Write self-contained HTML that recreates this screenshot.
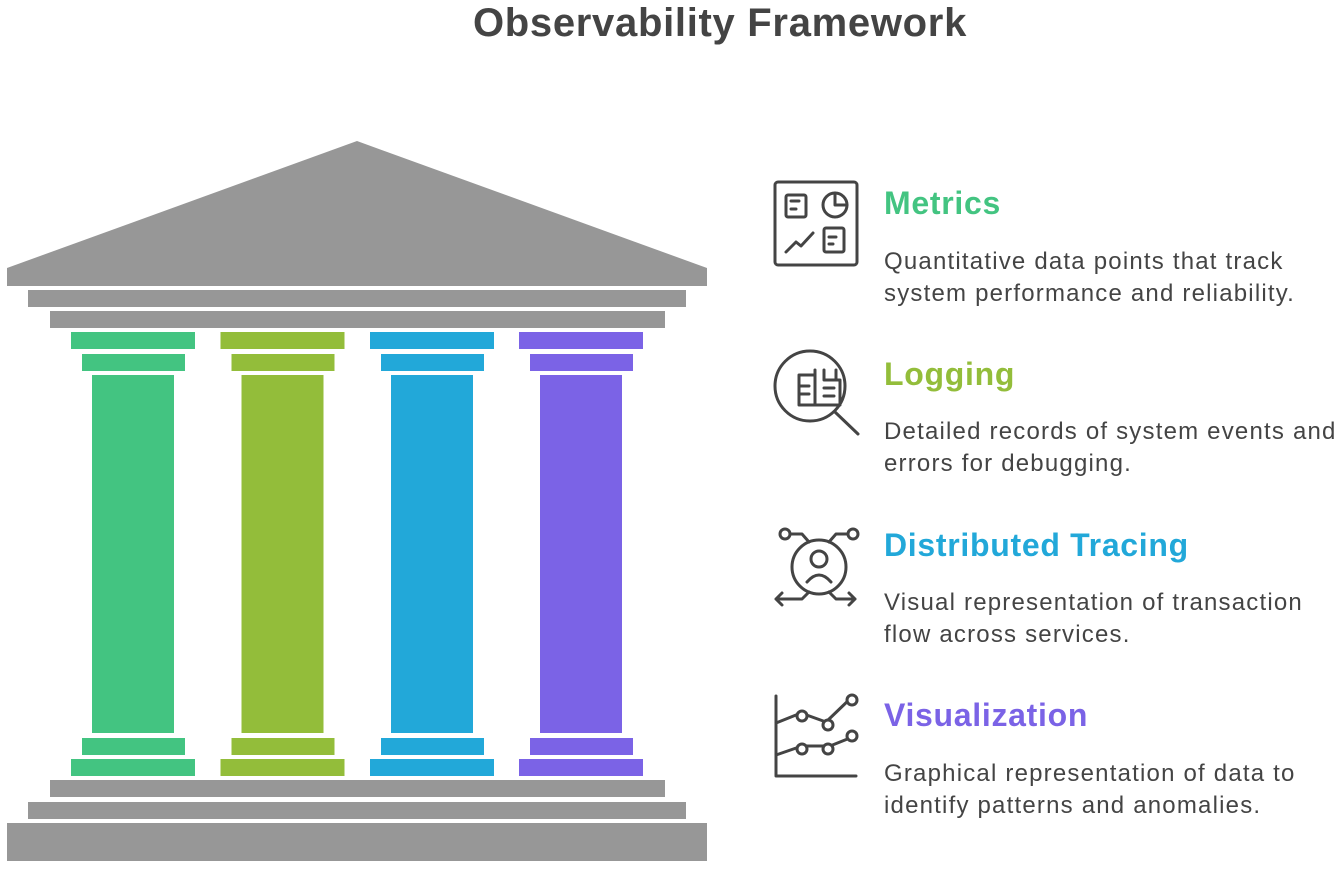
<!DOCTYPE html>
<html><head><style>
body{margin:0;width:1343px;height:870px;background:#fff;position:relative;overflow:hidden;font-family:"Liberation Sans",sans-serif}
.t{position:absolute;white-space:nowrap}
h1{position:absolute;left:0;width:1440px;text-align:center;top:0;margin:0;font-size:40px;color:#444;font-weight:bold;line-height:46px;letter-spacing:0.7px}
.h{font-size:32px;font-weight:bold;left:884px;line-height:38px;letter-spacing:0.7px}
.d{font-size:24px;color:#444;left:884px;line-height:32px;letter-spacing:1.2px}
</style></head><body>
<h1>Observability Framework</h1>
<svg width="720" height="870" style="position:absolute;left:0;top:0">
<g fill="#979797">
<polygon points="7,286 7,268 357,141 707,268 707,286"/>
<rect x="28" y="290" width="658" height="17"/>
<rect x="50" y="311" width="615" height="17"/>
<rect x="50" y="780" width="615" height="17"/>
<rect x="28" y="802" width="658" height="17"/>
<rect x="7" y="823" width="700" height="38"/>
</g>
<g fill="#43c481"><rect x="71" y="332" width="124" height="17"/><rect x="82" y="354" width="103" height="17"/><rect x="92" y="375" width="82" height="358"/><rect x="82" y="738" width="103" height="17"/><rect x="71" y="759" width="124" height="17"/></g>
<g fill="#93bd3a" transform="translate(149.5 0)"><rect x="71" y="332" width="124" height="17"/><rect x="82" y="354" width="103" height="17"/><rect x="92" y="375" width="82" height="358"/><rect x="82" y="738" width="103" height="17"/><rect x="71" y="759" width="124" height="17"/></g>
<g fill="#22a8d9" transform="translate(299 0)"><rect x="71" y="332" width="124" height="17"/><rect x="82" y="354" width="103" height="17"/><rect x="92" y="375" width="82" height="358"/><rect x="82" y="738" width="103" height="17"/><rect x="71" y="759" width="124" height="17"/></g>
<g fill="#7b63e6" transform="translate(448 0)"><rect x="71" y="332" width="124" height="17"/><rect x="82" y="354" width="103" height="17"/><rect x="92" y="375" width="82" height="358"/><rect x="82" y="738" width="103" height="17"/><rect x="71" y="759" width="124" height="17"/></g>
</svg>
<svg width="100" height="640" style="position:absolute;left:765px;top:170px" fill="none" stroke="#444" stroke-width="3" stroke-linecap="round" stroke-linejoin="round">
<rect x="10" y="12" width="82" height="83" rx="3"/>
<rect x="21" y="25" width="20" height="22" rx="2"/><path d="M26 31h8M26 39h5"/>
<circle cx="70" cy="35" r="12"/><path d="M70 23v12h12"/>
<path d="M21 82l10-10 5 4 12-13"/>
<rect x="59" y="58" width="20" height="24" rx="2"/><path d="M64 67h7M64 74h4"/>
<g transform="translate(7 0)">
<circle cx="38" cy="216" r="35"/><path d="M63 242l23 22"/>
<path d="M27 205h16v30h-16zM27 216h10M27 224h10M43 200v35M52 200v10M52 210h16v25h-25M52 218h10M52 226h10M64 200v10"/>
</g>
<circle cx="54" cy="397" r="27"/><circle cx="54" cy="389" r="8"/><path d="M42 412q12-14 24 0"/>
<circle cx="20" cy="364" r="5"/><circle cx="88" cy="364" r="5"/><path d="M25 364h12l7 8M83 364h-12l-7 8M44 422l-7 7h-26M11 429l6-6M11 429l6 6M64 422l7 7h19M90 429l-6-6M90 429l-6 6"/>
<path d="M11 526v80h80"/>
<path d="M11 553l25-10 25 9 26-25M11 585l26-9h28l25-10"/>
<circle cx="37" cy="546" r="5" fill="#fff"/><circle cx="63" cy="555" r="5" fill="#fff"/><circle cx="87" cy="530" r="5" fill="#fff"/>
<circle cx="37" cy="579" r="5" fill="#fff"/><circle cx="63" cy="579" r="5" fill="#fff"/><circle cx="87" cy="566" r="5" fill="#fff"/>
</svg>
<div class="t h" style="top:184px;color:#43c481">Metrics</div>
<div class="t d" style="top:246px">Quantitative data points that track<br>system performance and reliability.</div>
<div class="t h" style="top:355px;color:#93bd3a">Logging</div>
<div class="t d" style="top:416px">Detailed records of system events and<br>errors for debugging.</div>
<div class="t h" style="top:526px;color:#22a8d9">Distributed Tracing</div>
<div class="t d" style="top:587px">Visual representation of transaction<br>flow across services.</div>
<div class="t h" style="top:696px;color:#7b63e6">Visualization</div>
<div class="t d" style="top:758px">Graphical representation of data to<br>identify patterns and anomalies.</div>
</body></html>
